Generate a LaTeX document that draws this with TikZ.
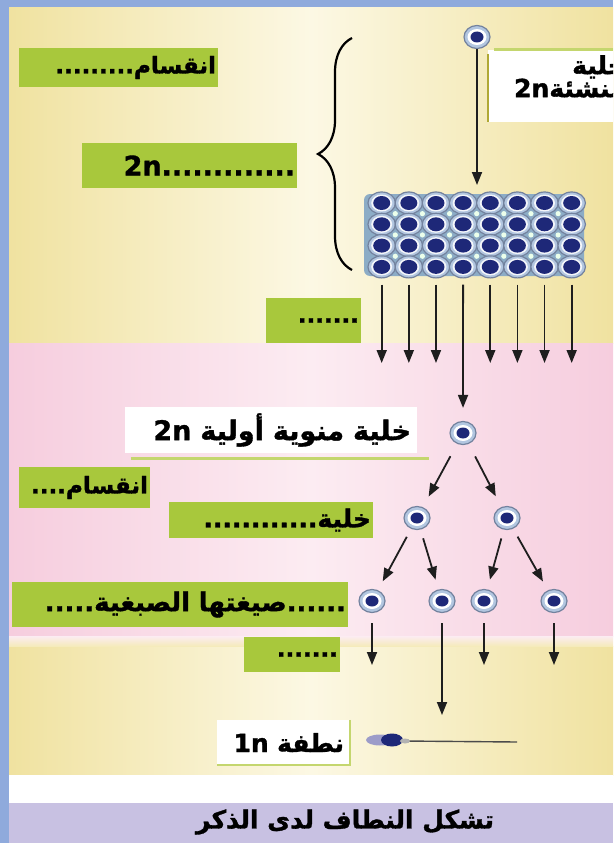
\documentclass[tikz,border=0pt]{standalone}
\usepackage{fontspec}
\usepackage{tikz}
\usetikzlibrary{arrows.meta,shapes.geometric,decorations.pathreplacing}
\TeXXeTstate=1
\newfontfamily\arabicfont[Script=Arabic, BoldFeatures={FakeBold=1.3}]{DejaVu Sans}

\definecolor{frameblue}{RGB}{143,170,220}
\definecolor{yelEdge}{RGB}{240,226,160}
\definecolor{yelMid}{RGB}{252,248,228}
\definecolor{pinkEdge}{RGB}{246,205,222}
\definecolor{pinkMid}{RGB}{252,236,242}
\definecolor{lavband}{RGB}{200,193,226}
\definecolor{boxgreen}{RGB}{168,200,60}
\definecolor{linegreen}{RGB}{196,214,110}
\definecolor{nucleus}{RGB}{30,40,120}
\definecolor{cellbody}{RGB}{178,198,224}
\definecolor{cellrim}{RGB}{115,130,158}
\definecolor{gridgap}{RGB}{140,172,198}
\definecolor{arrowgray}{RGB}{30,30,30}

\begin{document}
\begin{tikzpicture}[x=1pt, y=-1pt,
    arr/.style={-{Triangle[length=13pt,width=10pt]}, line width=1.8pt, draw=arrowgray},
    lbltext/.style={font=\arabicfont\bfseries\fontsize{23}{27}\selectfont, text=black},
    bigtext/.style={font=\arabicfont\bfseries\fontsize{#1}{#1}\selectfont},
    greenlbl/.style={lbltext, fill=boxgreen, inner xsep=2pt, inner ysep=0pt, align=right},
    whitelbl/.style={lbltext, fill=white, inner xsep=6pt, inner ysep=0pt, align=right},
    cell/.style={ellipse, draw=cellrim, line width=1.2pt, fill=cellbody,
        minimum width=26pt, minimum height=23pt, inner sep=0pt,
        path picture={
            \fill[white] (path picture bounding box.center) ellipse (9.5pt and 8pt);
            \fill[nucleus] (path picture bounding box.center) ellipse (6.5pt and 5.5pt);
        }},
    gridcell/.style={cell, minimum width=27.5pt, minimum height=22pt,
        path picture={
            \fill[white!85!cellbody] (path picture bounding box.center) ellipse (10.5pt and 8.5pt);
            \fill[nucleus] (path picture bounding box.center) ellipse (8.5pt and 7pt);
        }}
]
    \useasboundingbox (0,0) rectangle (613,843);
    \clip (0,0) rectangle (613,843);

    % frame and coloured bands
    \fill[frameblue] (0,0) rectangle (613,843);
    \shade[left color=yelEdge, right color=yelEdge, middle color=yelMid] (9,8) rectangle (613,343);
    \shade[left color=pinkEdge, right color=pinkEdge, middle color=pinkMid] (9,343) rectangle (613,636);
    \shade[left color=yelEdge, right color=yelEdge, middle color=yelMid] (9,646) rectangle (613,775);
    \shade[top color=pinkMid, bottom color=yelEdge!60!yelMid] (9,636) rectangle (613,646);
    \fill[white] (9,775) rectangle (613,803);
    \fill[lavband] (9,803) rectangle (613,843);

    % mother cell and its label
    \node[cell] (mother) at (477,37) {};
    \fill[white] (488,50) rectangle (613,122);
    \draw[linegreen, line width=3pt] (494,50) -- (613,50);
    \draw[olive!70, line width=1.5pt] (488,54) -- (488,122);
    \node[lbltext, bigtext=25, anchor=north east, align=right, inner sep=0pt] (mlbl) at (626,55)
        {\beginR خلية\endR\\[-2pt]\beginR منشئة\beginL 2n\endL\endR};

    % multiplication stage: 8 x 4 cells
    \fill[gridgap, rounded corners=6pt] (364,194) rectangle (584,276);
    \foreach \i in {1,...,8}
        \foreach \j in {1,...,4}
            \node[gridcell] (c-\i-\j) at ({381.7+27.14*(\i-1)}, {203+21.3*(\j-1)}) {};
    \foreach \i in {1,...,7}
        \foreach \j in {1,...,3}
            \fill[green!8!white] ({381.7+27.14*(\i-0.5)}, {203+21.3*(\j-0.5)}) circle (2.6pt);

    \coordinate (gtop) at (477,185);
    \draw[arr] (mother) -- (gtop);

    % brace over the first two stages
    \coordinate (brbot) at (352,270);
    \coordinate (brtop) at (352,38);
    \draw[decorate, decoration={brace, amplitude=34pt}, line width=2.2pt] (brbot) -- (brtop);

    % stage labels
    \node[greenlbl, minimum height=39pt, text width=195pt] (div1) at (118.5,67.5)
        {\beginR انقسام\kern0pt .........\endR};
    \node[greenlbl, bigtext=27, minimum height=45pt, text width=211pt] (twon) at (189.5,165.5)
        {2n.............};
    \node[greenlbl, minimum height=45pt, text width=91pt] (dots1) at (313.5,320.5)
        {.......};

    % growth: arrows out of the cell mass
    \foreach \i in {1,2,3,5,6,7,8} {
        \coordinate (e\i) at ({381.7+27.14*(\i-1)}, 363);
        \draw[arr, shorten <=6pt] (c-\i-4) -- (e\i);
    }

    % maturation tree
    \node[cell] (prim) at (463,433) {};
    \node[cell] (sec1) at (417,518) {};
    \node[cell] (sec2) at (507,518) {};
    \node[cell] (ter1) at (372,601) {};
    \node[cell] (ter2) at (442,601) {};
    \node[cell] (ter3) at (484,601) {};
    \node[cell] (ter4) at (554,601) {};

    \draw[arr, shorten <=6pt, shorten >=13pt] (c-4-4) -- (prim);
    \draw[arr, shorten <=14pt, shorten >=12pt] (prim) -- (sec1);
    \draw[arr, shorten <=14pt, shorten >=12pt] (prim) -- (sec2);
    \foreach \s/\a/\b in {sec1/ter1/ter2, sec2/ter3/ter4} {
        \draw[arr, shorten <=9pt, shorten >=10pt] (\s) -- (\a);
        \draw[arr, shorten <=9pt, shorten >=10pt] (\s) -- (\b);
    }

    \node[whitelbl, bigtext=27, minimum height=46pt, text width=280pt] (plbl) at (271,430)
        {\beginR خلية منوية أولية \beginL 2n\endL\endR};
    \draw[linegreen, line width=3pt] ([xshift=6pt, yshift=-5pt]plbl.south west) -- ([xshift=12pt, yshift=-5pt]plbl.south east);

    \node[greenlbl, minimum height=41pt, text width=127pt] (div2) at (84.5,487.5)
        {\beginR انقسام\kern0pt ....\endR};
    \node[greenlbl, bigtext=25, minimum height=36pt, text width=200pt] (cellx) at (271,520)
        {\beginR خلية\kern0pt ............\endR};
    \node[greenlbl, bigtext=26, minimum height=45pt, text width=332pt] (formula) at (180,604.5)
        {\beginR ......\kern0pt صيغتها الصبغية\kern0pt .....\endR};

    % spermiogenesis
    \foreach \t/\y in {ter1/665, ter3/665, ter4/665, ter2/715} {
        \coordinate (f-\t) at (\t |- 0,\y);
        \draw[arr, shorten <=10pt] (\t) -- (f-\t);
    }
    \node[greenlbl, minimum height=35pt, text width=92pt] (dots2) at (292,654.5)
        {.......};

    % spermatozoon
    \draw[arrowgray!80, line width=1.4pt] (402,741) -- (517,742);
    \fill[gray!70!blue!60] (380,740) ellipse (14pt and 5.5pt);
    \fill[nucleus] (392,740) ellipse (11pt and 6.5pt);
    \fill[gray!60] (405,741) ellipse (5pt and 2.5pt);
    \node[whitelbl, bigtext=25, minimum height=45pt, text width=121pt] (slbl) at (283.5,742.5)
        {\beginR نطفة \beginL 1n\endL\endR};
    \draw[linegreen, line width=1.5pt] (slbl.north east) -- (slbl.south east) -- (slbl.south west);

    % title band
    \node[bigtext=25] (title) at (345,822)
        {\beginR تشكل النطاف لدى الذكر\endR};
\end{tikzpicture}
\end{document}
